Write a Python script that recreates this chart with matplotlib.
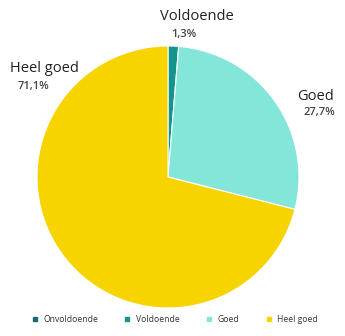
import matplotlib
matplotlib.use("Agg")
import matplotlib.pyplot as plt
from matplotlib.lines import Line2D

categories = ["Onvoldoende", "Voldoende", "Goed", "Heel goed"]
values = [0.0, 1.3, 27.7, 71.1]
pct_labels = ["0%", "1,3%", "27,7%", "71,1%"]
colors = ["#176b6b", "#14958b", "#84e6d8", "#f7d400"]

plt.rcParams['font.family'] = ['Open Sans', 'DejaVu Sans']

fig = plt.figure(figsize=(3.45, 3.36), dpi=100)
ax = fig.add_axes([0, 0, 1, 1])

cx, cy, r = 168, 336 - 177, 131
ax.pie(values, colors=colors, startangle=90, counterclock=False,
       center=(cx, cy), radius=r, frame=True,
       wedgeprops=dict(edgecolor='white', linewidth=0.8))
ax.set_xlim(0, 345)
ax.set_ylim(0, 336)
ax.axis('off')

# Data labels (name + percentage)
label_pos = {
    1: ((197, 17), (184, 34)),
    2: ((316, 96), (319, 113)),
    3: ((44, 68), (33, 86)),
}
for i, ((nx, ny), (px, py)) in label_pos.items():
    ax.text(nx, 336 - ny, categories[i], ha='center', va='center',
            fontsize=10.5, color='#222222')
    ax.text(px, 336 - py, pct_labels[i], ha='center', va='center',
            fontsize=8, color='#444444', fontweight='semibold')

handles = [Line2D([0], [0], marker='s', linestyle='none', markersize=3,
                  markerfacecolor=c, markeredgecolor=c) for c in colors]
fig.legend(handles, categories, loc='center', bbox_to_anchor=(0.505, 1 - 320 / 336),
           ncol=4, frameon=False, fontsize=6.2, handletextpad=0.5,
           columnspacing=2.9, labelcolor='#333333', handlelength=1.0)

fig.savefig("out.png", dpi=100)
